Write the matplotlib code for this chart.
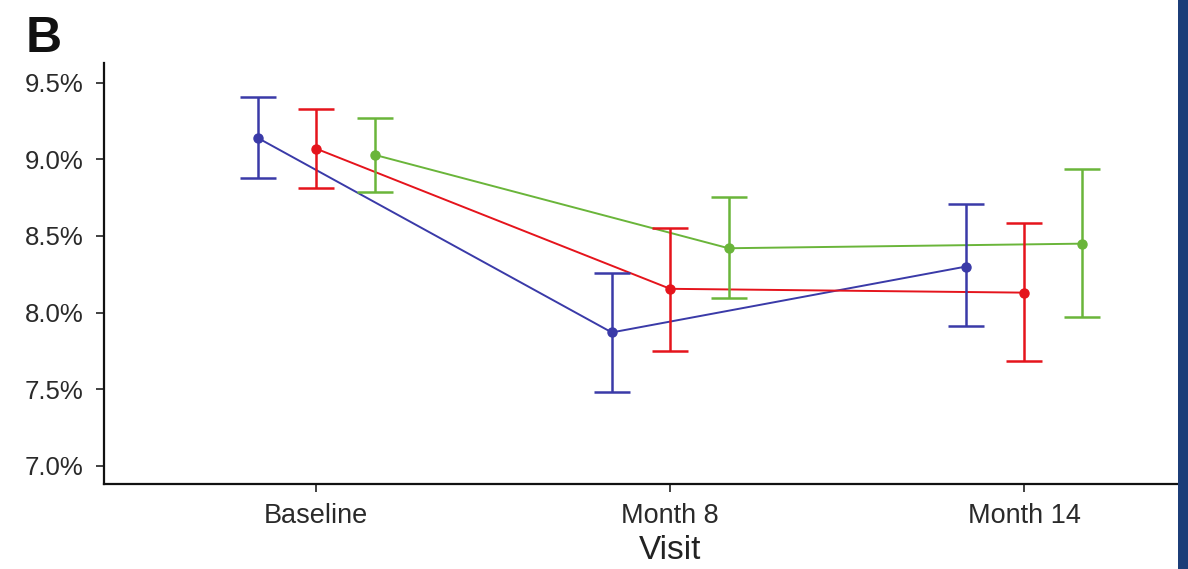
import matplotlib
matplotlib.use("Agg")
import matplotlib.pyplot as plt
import numpy as np
from matplotlib.patches import Rectangle

plt.rcParams['font.family'] = ['Liberation Sans', 'DejaVu Sans']

visits = ["Baseline", "Month 8", "Month 14"]
series_names = ["Group 1", "Group 2", "Group 3"]
colors = ["#3a3aa8", "#e5141c", "#6ab53a"]

mean_blue = [9.14, 7.87, 8.30]
low_blue = [8.88, 7.48, 7.91]
high_blue = [9.41, 8.26, 8.71]

mean_red = [9.07, 8.155, 8.13]
low_red = [8.815, 7.75, 7.685]
high_red = [9.33, 8.55, 8.585]

mean_green = [9.03, 8.42, 8.45]
low_green = [8.79, 8.095, 7.97]
high_green = [9.27, 8.755, 8.94]

means = [mean_blue, mean_red, mean_green]
lows = [low_blue, low_red, low_green]
highs = [high_blue, high_red, high_green]
yticks = [7.0, 7.5, 8.0, 8.5, 9.0, 9.5]

W, H = 1188, 569
fig = plt.figure(figsize=(W / 100, H / 100), dpi=100)
ax = fig.add_axes([104 / W, 1 - 484 / H, (1178 - 104) / W, (484 - 63) / H])

x = np.arange(1, len(visits) + 1)
offsets = [-0.165, 0.0, 0.165]
for m, lo, hi, c, off, name in zip(means, lows, highs, colors, offsets, series_names):
    xs = x + off
    m = np.array(m); lo = np.array(lo); hi = np.array(hi)
    ax.plot(xs, m, color=c, lw=1.4, zorder=2, label=name)
    ax.errorbar(xs, m, yerr=[m - lo, hi - m], fmt='o', color=c, ms=6.5,
                elinewidth=1.8, capsize=13, capthick=1.8, zorder=3)

xmin, xmax = 0.4, 3.435
ax.set_xlim(xmin, xmax)
ax.set_ylim(6.88, 9.63)
ax.set_xticks(x)
ax.set_xticklabels(visits, fontsize=19.5)
ax.set_yticks(yticks)
ax.set_yticklabels([f"{v:.1f}%" for v in yticks], fontsize=18.5)
ax.tick_params(axis='both', length=5.5, width=1.3, color='#333333', labelcolor='#2a2a2a')
ax.tick_params(axis='y', pad=9)
ax.tick_params(axis='x', pad=8)
for s in ['top', 'right']:
    ax.spines[s].set_visible(False)
for s in ['left', 'bottom']:
    ax.spines[s].set_linewidth(1.6)
    ax.spines[s].set_color('#111111')
ax.set_xlabel("Visit", fontsize=24, color='#222222')
ax.xaxis.set_label_coords((2.0 - xmin) / (xmax - xmin), -0.122)

fig.text(26 / W, 1 - 52 / H, "B", fontsize=36, fontweight='bold', color='#111111')
fig.patches.append(Rectangle((1178 / W, 0), 10 / W, 1, transform=fig.transFigure,
                             facecolor='#1c3d78', edgecolor='none', zorder=10))

fig.savefig("out.png", dpi=100)
